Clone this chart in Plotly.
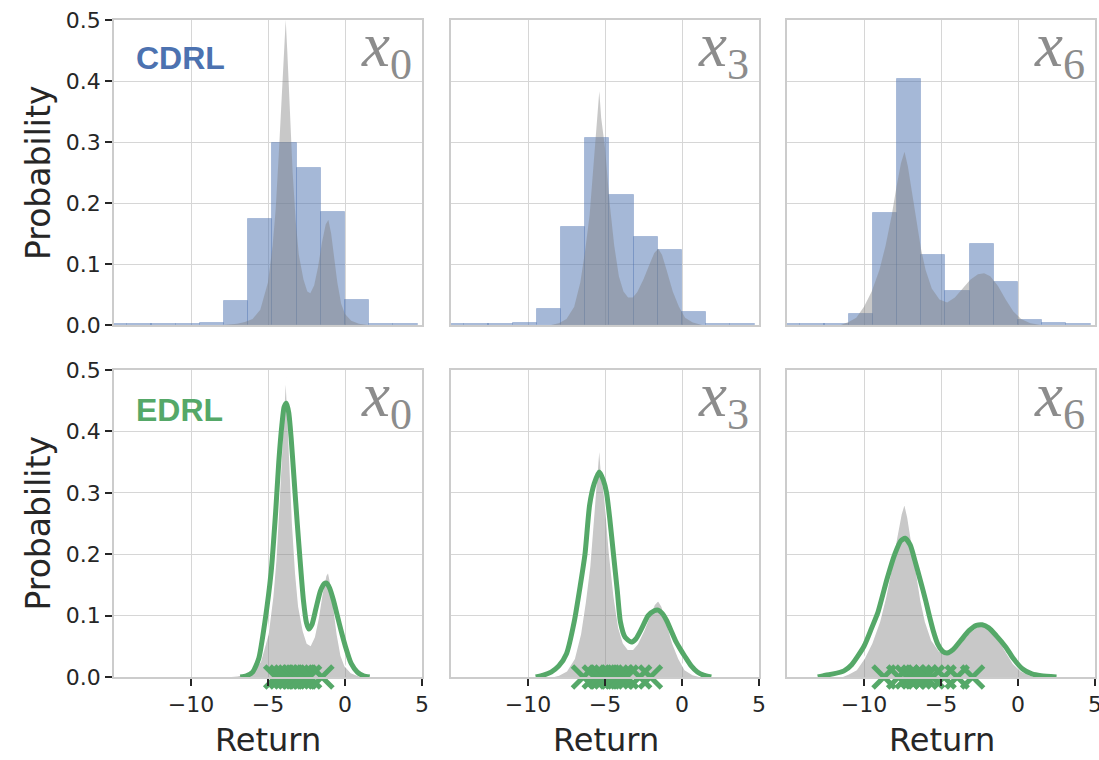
import plotly.graph_objects as go

# ---------------------------------------------------------------- data
STATE_NAMES = ["0", "3", "6"]

# categorical (CDRL) distribution, one bar per bin
BIN_WIDTH = 1.5708
BIN_CENTERS = [-14.92, -13.35, -11.78, -10.21, -8.64, -7.07, -5.50,
               -3.93, -2.36, -0.79, 0.79, 2.36, 3.93]
CDRL_X0 = [0.001, 0.001, 0.001, 0.001, 0.003, 0.039, 0.174,
           0.299, 0.258, 0.186, 0.041, 0.001, 0.001]
CDRL_X3 = [0.001, 0.001, 0.001, 0.003, 0.026, 0.160, 0.307,
           0.213, 0.145, 0.123, 0.021, 0.001, 0.001]
CDRL_X6 = [0.001, 0.001, 0.002, 0.018, 0.184, 0.404, 0.114,
           0.055, 0.132, 0.071, 0.009, 0.003, 0.001]

# true return densities
TRUE_X0_RET = [-8.0, -7.0, -6.5, -6.0, -5.5, -5.0, -4.7, -4.5, -4.3, -4.1, -3.95,
               -3.85, -3.75, -3.6, -3.4, -3.2, -3.0, -2.7, -2.45, -2.25, -2.0,
               -1.75, -1.5, -1.25, -1.08, -0.9, -0.7, -0.5, -0.25, 0.0, 0.4, 0.9, 1.5]
TRUE_X0_DEN = [0.0, 0.002, 0.005, 0.01, 0.025, 0.07, 0.13, 0.19, 0.28, 0.38, 0.46,
               0.50, 0.45, 0.36, 0.25, 0.17, 0.115, 0.075, 0.055, 0.052, 0.065,
               0.095, 0.135, 0.165, 0.172, 0.15, 0.11, 0.07, 0.035, 0.018, 0.007, 0.002, 0.0]

TRUE_X3_RET = [-8.5, -8.0, -7.5, -7.0, -6.6, -6.3, -6.0, -5.8, -5.6, -5.45, -5.37,
               -5.25, -5.0, -4.7, -4.4, -4.1, -3.8, -3.5, -3.2, -2.9, -2.5, -2.1,
               -1.8, -1.54, -1.3, -1.0, -0.6, -0.2, 0.2, 0.7, 1.3]
TRUE_X3_DEN = [0.0, 0.003, 0.01, 0.03, 0.07, 0.12, 0.18, 0.24, 0.31, 0.355, 0.383,
               0.34, 0.29, 0.2, 0.13, 0.08, 0.055, 0.045, 0.045, 0.054, 0.075, 0.1,
               0.118, 0.125, 0.115, 0.09, 0.055, 0.03, 0.012, 0.004, 0.0]

TRUE_X6_RET = [-11.5, -11.0, -10.5, -10.0, -9.5, -9.0, -8.6, -8.2, -7.9, -7.6, -7.37,
               -7.15, -6.9, -6.6, -6.3, -6.0, -5.6, -5.1, -4.6, -4.1, -3.6, -3.1,
               -2.6, -2.2, -1.8, -1.3, -0.8, -0.3, 0.2, 0.8, 1.5]
TRUE_X6_DEN = [0.0, 0.005, 0.012, 0.03, 0.055, 0.09, 0.13, 0.18, 0.225, 0.265, 0.284,
               0.26, 0.22, 0.17, 0.125, 0.09, 0.06, 0.042, 0.037, 0.045, 0.06, 0.074,
               0.083, 0.085, 0.08, 0.064, 0.042, 0.022, 0.01, 0.003, 0.0]

# EDRL imputed densities
EDRL_X0_RET = [-6.8, -6.4, -6.0, -5.6, -5.2, -4.8, -4.5, -4.3, -4.1, -3.95, -3.8,
               -3.65, -3.5, -3.3, -3.1, -2.9, -2.7, -2.5, -2.35, -2.15, -1.9, -1.6,
               -1.35, -1.2, -1.0, -0.75, -0.5, -0.25, 0.0, 0.4, 0.8, 1.2, 1.6]
EDRL_X0_DEN = [0.0, 0.002, 0.008, 0.03, 0.09, 0.17, 0.27, 0.35, 0.41, 0.44, 0.446,
               0.43, 0.39, 0.32, 0.25, 0.185, 0.125, 0.088, 0.078, 0.085, 0.11, 0.14,
               0.152, 0.153, 0.145, 0.125, 0.1, 0.075, 0.052, 0.022, 0.008, 0.002, 0.0]

EDRL_X3_RET = [-9.5, -9.0, -8.5, -8.0, -7.5, -7.0, -6.6, -6.3, -6.0, -5.7, -5.37,
               -5.1, -4.9, -4.7, -4.45, -4.2, -4.0, -3.7, -3.3, -3.0, -2.6, -2.2,
               -1.8, -1.55, -1.3, -1.0, -0.7, -0.4, -0.1, 0.2, 0.6, 1.0, 1.4, 1.9]
EDRL_X3_DEN = [0.0, 0.003, 0.008, 0.018, 0.038, 0.09, 0.15, 0.2, 0.28, 0.315, 0.334,
               0.32, 0.3, 0.26, 0.2, 0.14, 0.09, 0.065, 0.057, 0.062, 0.08, 0.1,
               0.108, 0.109, 0.104, 0.092, 0.075, 0.058, 0.045, 0.033, 0.018, 0.008, 0.003, 0.0]

EDRL_X6_RET = [-13.0, -12.5, -12.0, -11.3, -10.8, -10.0, -9.5, -9.1, -8.5, -8.0, -7.6,
               -7.33, -7.0, -6.7, -6.35, -6.0, -5.8, -5.5, -5.2, -4.9, -4.6, -4.2,
               -3.7, -3.2, -2.7, -2.33, -1.9, -1.4, -0.8, -0.3, 0.3, 0.9, 1.5, 2.5]
EDRL_X6_DEN = [0.0, 0.003, 0.005, 0.01, 0.02, 0.05, 0.08, 0.105, 0.16, 0.2, 0.222,
               0.226, 0.215, 0.19, 0.158, 0.125, 0.104, 0.075, 0.053, 0.042, 0.039, 0.045,
               0.06, 0.075, 0.084, 0.085, 0.08, 0.067, 0.049, 0.03, 0.013, 0.005, 0.002, 0.0]

# expectile statistics learned by EDRL
EXPECTILES_X0 = [-4.5, -4.15, -3.85, -3.6, -3.35, -3.1, -2.85, -2.6, -2.3, -1.5]
EXPECTILES_X3 = [-6.4, -5.7, -5.3, -4.95, -4.6, -4.25, -3.9, -3.6, -2.75, -2.05]
EXPECTILES_X6 = [-8.7, -7.75, -7.2, -6.8, -6.4, -6.0, -5.55, -4.8, -3.95, -2.95]

X_TICKS = [-10, -5, 0, 5]
X_TICK_TEXT = ["\u221210", "\u22125", "0", "5"]
Y_TICKS = [0.0, 0.1, 0.2, 0.3, 0.4, 0.5]
Y_TICK_TEXT = ["0.0", "0.1", "0.2", "0.3", "0.4", "0.5"]

# ---------------------------------------------------------------- styling
BLUE = "#4c72b0"
GREEN = "#55a868"
GRAY_FILL = "rgba(128,128,128,0.43)"
GRID = "#d6d6d6"
FRAME = "#cccccc"
TEXT = "#262626"
W, H = 1099, 760

X_DOMAINS = [(114 / W, 422 / W), (451 / W, 759 / W), (787 / W, 1095 / W)]
Y_DOMAINS = [((760 - 325) / H, (760 - 20) / H), ((760 - 677) / H, (760 - 370) / H)]

cdrl = [CDRL_X0, CDRL_X3, CDRL_X6]
true_ret = [TRUE_X0_RET, TRUE_X3_RET, TRUE_X6_RET]
true_den = [TRUE_X0_DEN, TRUE_X3_DEN, TRUE_X6_DEN]
edrl_ret = [EDRL_X0_RET, EDRL_X3_RET, EDRL_X6_RET]
edrl_den = [EDRL_X0_DEN, EDRL_X3_DEN, EDRL_X6_DEN]
expectiles = [EXPECTILES_X0, EXPECTILES_X3, EXPECTILES_X6]

fig = go.Figure()
layout = dict(
    width=W, height=H,
    margin=dict(l=0, r=0, t=0, b=0, pad=0, autoexpand=False),
    paper_bgcolor="white", plot_bgcolor="white",
    showlegend=False,
    font=dict(family="DejaVu Sans", color=TEXT),
)
annotations = []

for row in range(2):
    for col in range(3):
        idx = row * 3 + col + 1
        suffix = "" if idx == 1 else str(idx)
        xa, ya = "x" + suffix, "y" + suffix
        bottom = row == 1
        left = col == 0

        # true distribution (shaded)
        fig.add_trace(go.Scatter(
            x=true_ret[col], y=true_den[col], xaxis=xa, yaxis=ya,
            mode="lines", fill="tozeroy", fillcolor=GRAY_FILL,
            line=dict(color="white" if bottom else "rgba(0,0,0,0)",
                      width=1.5 if bottom else 0),
            hoverinfo="skip",
        ))
        if not bottom:
            fig.add_trace(go.Bar(
                x=BIN_CENTERS, y=cdrl[col], width=BIN_WIDTH,
                xaxis=xa, yaxis=ya,
                marker=dict(color="rgba(76,114,176,0.5)",
                            line=dict(color="rgba(76,114,176,0.3)", width=1)),
            ))
        else:
            fig.add_trace(go.Scatter(
                x=edrl_ret[col], y=edrl_den[col], xaxis=xa, yaxis=ya,
                mode="lines", line=dict(color=GREEN, width=5, shape="spline", smoothing=0.6),
                cliponaxis=False,
            ))
            fig.add_trace(go.Scatter(
                x=expectiles[col], y=[0.0] * len(expectiles[col]),
                xaxis=xa, yaxis=ya, mode="markers", cliponaxis=False,
                marker=dict(symbol="x-thin", size=22, color=GREEN,
                            line=dict(color=GREEN, width=5)),
            ))

        layout["xaxis" + suffix] = dict(
            domain=X_DOMAINS[col], anchor=ya, range=[-15, 5], automargin=False,
            tickvals=X_TICKS, ticktext=X_TICK_TEXT, ticklabeloverflow="allow",
            showticklabels=bottom, ticks="outside" if bottom else "",
            ticklen=7, tickwidth=1.5, tickcolor=TEXT,
            tickfont=dict(size=22, color=TEXT, family="DejaVu Sans"),
            showgrid=True, gridcolor=GRID, gridwidth=1.3, zeroline=False,
            showline=True, linecolor=FRAME, linewidth=1.5, mirror=True,
        )
        layout["yaxis" + suffix] = dict(
            domain=Y_DOMAINS[row], anchor=xa, range=[0, 0.5], automargin=False,
            tickvals=Y_TICKS, ticktext=Y_TICK_TEXT,
            showticklabels=left, ticks="outside" if left else "",
            ticklen=7, tickwidth=1.5, tickcolor=TEXT,
            tickfont=dict(size=22, color=TEXT, family="DejaVu Sans"),
            showgrid=True, gridcolor=GRID, gridwidth=1.3, zeroline=False,
            showline=True, linecolor=FRAME, linewidth=1.5, mirror=True,
        )

        # state label in the top-right corner
        annotations.append(dict(
            xref=f"{xa} domain", yref=f"{ya} domain", x=0.975, y=1.0,
            xanchor="right", yanchor="top", yshift=12, showarrow=False,
            text=f"<i>x</i><sub>{STATE_NAMES[col]}</sub>",
            font=dict(family="Liberation Serif", size=63, color="#8c8c8c"),
        ))

# method names
annotations.append(dict(xref="paper", yref="paper", x=134 / W, y=(H - 58) / H,
                        xanchor="left", yanchor="middle", showarrow=False,
                        text="<b>CDRL</b>",
                        font=dict(family="Liberation Sans", size=32, color=BLUE)))
annotations.append(dict(xref="paper", yref="paper", x=134 / W, y=(H - 410) / H,
                        xanchor="left", yanchor="middle", showarrow=False,
                        text="<b>EDRL</b>",
                        font=dict(family="Liberation Sans", size=32, color=GREEN)))

# axis titles
for yc in (173, 523.5):
    annotations.append(dict(xref="paper", yref="paper", x=38 / W, y=(H - yc) / H,
                            xanchor="center", yanchor="middle", showarrow=False,
                            textangle=-90, text="Probability",
                            font=dict(family="DejaVu Sans", size=33, color=TEXT)))
for xc in (268, 606, 942):
    annotations.append(dict(xref="paper", yref="paper", x=xc / W, y=(H - 740) / H,
                            xanchor="center", yanchor="middle", showarrow=False,
                            text="Return",
                            font=dict(family="DejaVu Sans", size=32, color=TEXT)))

layout["annotations"] = annotations
layout["bargap"] = 0
fig.update_layout(**layout)
fig.write_html("out.html")
